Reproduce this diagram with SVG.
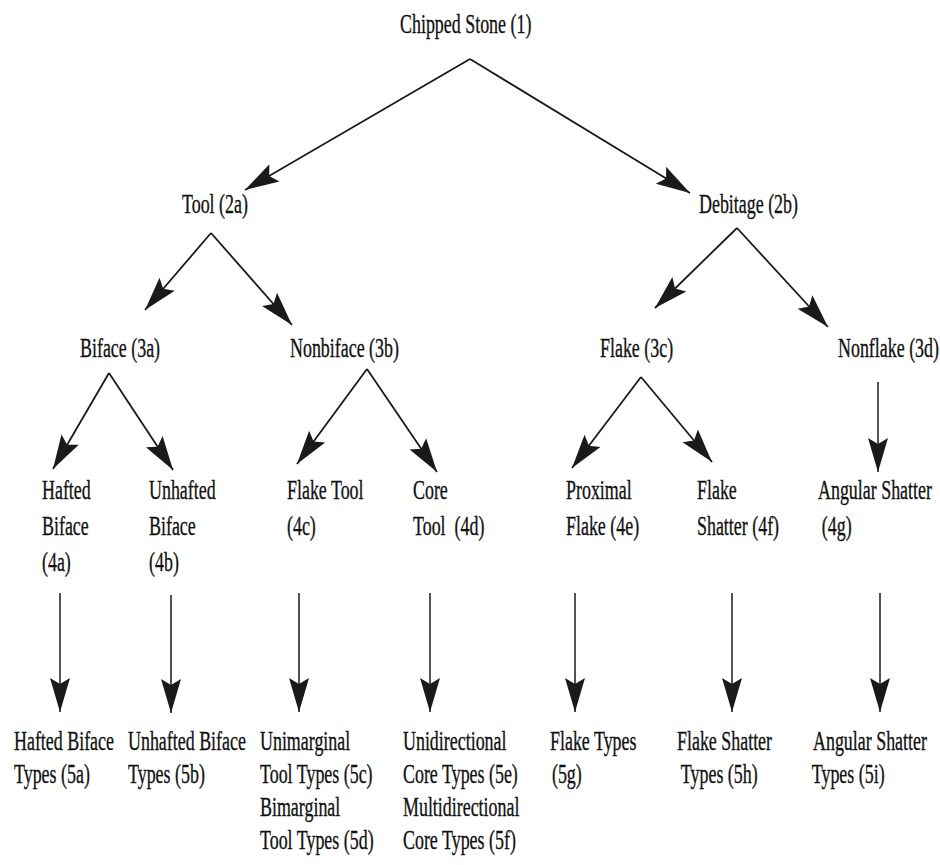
<svg xmlns="http://www.w3.org/2000/svg" width="940" height="865" viewBox="0 0 940 865">
<style>
text{font-family:"Liberation Serif","Times New Roman",serif;font-size:28px;fill:#111;stroke:#111;stroke-width:0.35px;}
.c line{stroke:#1a1a1a;stroke-width:1.8;fill:none;marker-end:url(#ah);}
.c line.v{stroke-width:1.5;}
</style>
<defs>
<marker id="ah" viewBox="-36 -12 38 24" refX="0" refY="0" markerWidth="38" markerHeight="24" markerUnits="userSpaceOnUse" orient="auto">
<path d="M0,0 L-34,-10 L-28,0 L-34,10 Z" fill="#1a1a1a"/>
</marker>
</defs>
<rect width="940" height="865" fill="#ffffff"/>
<g id="n1"><text transform="translate(400,33) scale(0.64,1)">Chipped Stone (1)</text></g>
<g id="n2a"><text transform="translate(182,213) scale(0.64,1)">Tool (2a)</text></g>
<g id="n2b"><text transform="translate(699,213) scale(0.64,1)">Debitage (2b)</text></g>
<g id="n3a"><text transform="translate(80,357) scale(0.64,1)">Biface (3a)</text></g>
<g id="n3b"><text transform="translate(290,357) scale(0.64,1)">Nonbiface (3b)</text></g>
<g id="n3c"><text transform="translate(600,357) scale(0.64,1)">Flake (3c)</text></g>
<g id="n3d"><text transform="translate(838,357) scale(0.64,1)">Nonflake (3d)</text></g>
<g id="n4a"><text transform="translate(42,499) scale(0.64,1)"><tspan x="0">Hafted</tspan><tspan x="0" dy="36">Biface</tspan><tspan x="0" dy="36">(4a)</tspan></text></g>
<g id="n4b"><text transform="translate(149,499) scale(0.64,1)"><tspan x="0">Unhafted</tspan><tspan x="0" dy="36">Biface</tspan><tspan x="0" dy="36">(4b)</tspan></text></g>
<g id="n4c"><text transform="translate(287,499) scale(0.64,1)"><tspan x="0">Flake Tool</tspan><tspan x="0" dy="36">(4c)</tspan></text></g>
<g id="n4d"><text transform="translate(413,499) scale(0.64,1)"><tspan x="0">Core</tspan><tspan x="0" dy="36" xml:space="preserve">Tool  (4d)</tspan></text></g>
<g id="n4e"><text transform="translate(566,499) scale(0.64,1)"><tspan x="0">Proximal</tspan><tspan x="0" dy="36">Flake (4e)</tspan></text></g>
<g id="n4f"><text transform="translate(697,499) scale(0.64,1)"><tspan x="0">Flake</tspan><tspan x="0" dy="36">Shatter (4f)</tspan></text></g>
<g id="n4g"><text transform="translate(818,499) scale(0.64,1)"><tspan x="0">Angular Shatter</tspan><tspan x="6" dy="36">(4g)</tspan></text></g>
<g id="n5a"><text transform="translate(14,750) scale(0.64,1)"><tspan x="0">Hafted Biface</tspan><tspan x="0" dy="33">Types (5a)</tspan></text></g>
<g id="n5b"><text transform="translate(128,750) scale(0.64,1)"><tspan x="0">Unhafted Biface</tspan><tspan x="0" dy="33">Types (5b)</tspan></text></g>
<g id="n5cd"><text transform="translate(260,750) scale(0.64,1)"><tspan x="0">Unimarginal</tspan><tspan x="0" dy="33">Tool Types (5c)</tspan><tspan x="0" dy="33">Bimarginal</tspan><tspan x="0" dy="33">Tool Types (5d)</tspan></text></g>
<g id="n5ef"><text transform="translate(403,750) scale(0.64,1)"><tspan x="0">Unidirectional</tspan><tspan x="0" dy="33">Core Types (5e)</tspan><tspan x="0" dy="33">Multidirectional</tspan><tspan x="0" dy="33">Core Types (5f)</tspan></text></g>
<g id="n5g"><text transform="translate(550,750) scale(0.64,1)"><tspan x="0">Flake Types</tspan><tspan x="3" dy="33">(5g)</tspan></text></g>
<g id="n5h"><text transform="translate(677,750) scale(0.64,1)"><tspan x="0">Flake Shatter</tspan><tspan x="6" dy="33">Types (5h)</tspan></text></g>
<g id="n5i"><text transform="translate(813,750) scale(0.64,1)"><tspan x="0">Angular Shatter</tspan><tspan x="-2" dy="33">Types (5i)</tspan></text></g>
<g id="connectors" class="c">
<line x1="470" y1="59" x2="245" y2="190"/>
<line x1="470" y1="59" x2="690" y2="193"/>
<line x1="211" y1="233" x2="145" y2="310"/>
<line x1="211" y1="233" x2="292" y2="325"/>
<line x1="737" y1="228" x2="655" y2="308"/>
<line x1="737" y1="228" x2="828" y2="327"/>
<line x1="109" y1="373" x2="53" y2="469"/>
<line x1="109" y1="373" x2="173" y2="470"/>
<line x1="367" y1="369" x2="297" y2="464"/>
<line x1="367" y1="369" x2="437" y2="472"/>
<line x1="641" y1="377" x2="572" y2="468"/>
<line x1="641" y1="377" x2="712" y2="462"/>
<line class="v" x1="878" y1="382" x2="878" y2="472"/>
<line class="v" x1="60" y1="593" x2="60" y2="712"/>
<line class="v" x1="171" y1="595" x2="171" y2="713"/>
<line class="v" x1="299" y1="593" x2="299" y2="712"/>
<line class="v" x1="430" y1="593" x2="430" y2="712"/>
<line class="v" x1="575" y1="593" x2="575" y2="712"/>
<line class="v" x1="732" y1="593" x2="732" y2="712"/>
<line class="v" x1="880" y1="593" x2="880" y2="712"/>
</g>
</svg>
